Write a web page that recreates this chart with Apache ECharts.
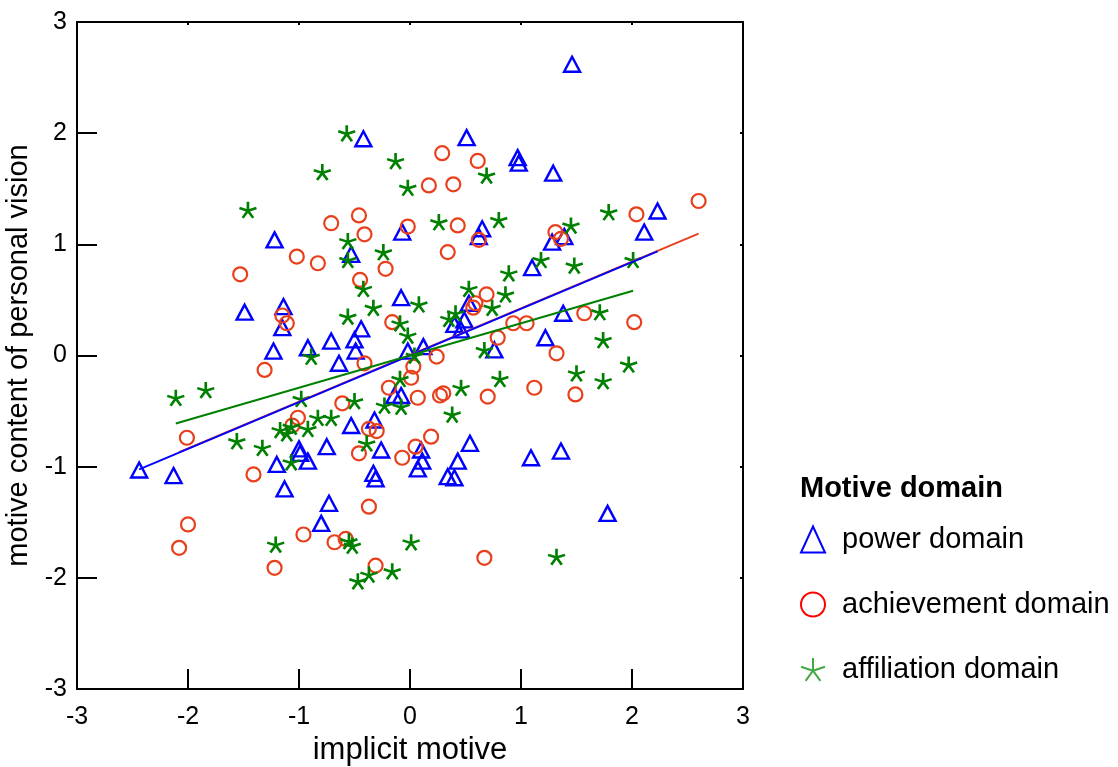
<!DOCTYPE html>
<html>
<head>
<meta charset="utf-8">
<script src="https://cdn.jsdelivr.net/npm/echarts@6/dist/echarts.min.js"></script>
<style>
  html, body { margin: 0; padding: 0; background: #fff; }
  #chart { width: 1118px; height: 767px; }
</style>
</head>
<body>
<div id="chart"></div>
<script>
// power domain (implicit motive, personal vision)
const powerData = [
  [1.46, 2.62], [0.51, 1.96], [-0.42, 1.95], [0.97, 1.78], [0.98, 1.73], [1.29, 1.64],
  [2.23, 1.30], [2.11, 1.11], [0.65, 1.14], [0.62, 1.07], [-0.07, 1.11], [1.39, 1.07],
  [1.28, 1.02], [-1.22, 1.04], [-0.53, 0.91], [1.10, 0.79], [-0.08, 0.52], [-1.49, 0.39],
  [-1.14, 0.44], [-1.15, 0.25], [-0.44, 0.24], [-0.50, 0.14], [-0.49, 0.04], [-0.71, 0.13],
  [-0.92, 0.07], [-1.23, 0.04], [-0.64, -0.07], [-0.02, 0.04], [0.12, 0.08], [0.53, 0.47],
  [0.49, 0.32], [0.40, 0.28], [0.46, 0.23], [0.76, 0.05], [1.38, 0.38], [1.22, 0.16],
  [-0.14, -0.36], [-0.08, -0.36], [0.10, -0.85], [0.11, -0.95], [0.07, -1.02], [0.54, -0.79],
  [0.43, -0.95], [0.34, -1.09], [0.40, -1.10], [1.09, -0.92], [1.36, -0.86], [1.78, -1.42],
  [-0.53, -0.63], [-0.32, -0.58], [-1.00, -0.84], [-0.99, -0.88], [-0.92, -0.95], [-1.20, -0.98],
  [-0.75, -0.82], [-0.26, -0.85], [-0.33, -1.06], [-0.31, -1.11], [-2.44, -1.03], [-2.13, -1.08],
  [-1.13, -1.20], [-0.73, -1.33], [-0.80, -1.51]
];
// achievement domain
const achievementData = [
  [0.29, 1.82], [0.61, 1.75], [0.17, 1.53], [0.39, 1.54], [2.04, 1.27], [2.60, 1.39],
  [0.43, 1.17], [0.62, 1.04], [-0.02, 1.16], [1.31, 1.11], [1.36, 1.05], [0.34, 0.93],
  [-0.71, 1.19], [-0.46, 1.26], [-0.41, 1.09], [-1.02, 0.89], [-0.83, 0.83], [-0.22, 0.78],
  [-1.53, 0.73], [-0.45, 0.68], [-1.15, 0.36], [-1.11, 0.29], [-0.16, 0.30], [-0.41, -0.07],
  [-1.31, -0.13], [0.03, -0.10], [0.01, -0.20], [0.24, -0.01], [0.69, 0.55], [0.59, 0.47],
  [0.57, 0.43], [0.79, 0.16], [0.93, 0.29], [1.05, 0.29], [1.57, 0.38], [2.02, 0.30],
  [1.32, 0.02], [-0.19, -0.29], [0.07, -0.38], [0.27, -0.36], [0.30, -0.34], [0.70, -0.37],
  [1.12, -0.29], [1.49, -0.35], [-0.61, -0.43], [-1.01, -0.56], [-1.06, -0.63], [-0.37, -0.66],
  [-0.30, -0.68], [-0.46, -0.88], [0.19, -0.73], [0.05, -0.82], [-0.07, -0.92], [-2.01, -0.74],
  [-1.41, -1.07], [-0.37, -1.36], [-2.00, -1.52], [-2.08, -1.73], [-1.22, -1.91], [-0.96, -1.61],
  [-0.68, -1.68], [-0.58, -1.65], [-0.31, -1.89], [0.67, -1.82]
];
// affiliation domain
const affiliationData = [
  [-0.57, 2.00], [-0.13, 1.75], [-0.79, 1.65], [0.69, 1.62], [-0.02, 1.51], [-1.46, 1.31],
  [1.79, 1.29], [0.26, 1.20], [0.80, 1.22], [1.45, 1.17], [-0.56, 1.03], [-0.24, 0.93],
  [-0.56, 0.86], [-0.42, 0.60], [-0.33, 0.43], [0.08, 0.46], [-0.56, 0.35], [-0.09, 0.29],
  [-0.89, -0.01], [-0.02, 0.18], [0.04, 0.00], [0.53, 0.60], [0.74, 0.43], [0.41, 0.38],
  [0.35, 0.33], [0.67, 0.05], [1.18, 0.86], [1.48, 0.81], [2.01, 0.86], [0.89, 0.74],
  [0.86, 0.55], [1.71, 0.39], [1.74, 0.14], [1.97, -0.08], [1.50, -0.16], [1.74, -0.23],
  [-0.09, -0.21], [-0.23, -0.45], [-0.08, -0.46], [0.46, -0.29], [0.38, -0.53], [0.81, -0.21],
  [-0.50, -0.41], [-0.98, -0.39], [-0.83, -0.56], [-0.71, -0.56], [-1.17, -0.67], [-1.11, -0.70],
  [-1.07, -0.64], [-0.92, -0.66], [-0.39, -0.79], [-1.33, -0.83], [-2.11, -0.38], [-1.84, -0.31],
  [-1.56, -0.77], [-1.07, -0.96], [-1.21, -1.70], [-0.55, -1.67], [-0.52, -1.71], [-0.47, -2.03],
  [-0.37, -1.97], [-0.16, -1.94], [0.01, -1.68], [1.32, -1.81]
];

const seriesNames = ['power domain', 'achievement domain', 'affiliation domain'];
const seriesColors = ['#0000ff', '#e8401c', '#008000'];
// linear fits: [slope, intercept]
const fitPower = [0.42, 0.0];
const fitAchievement = [0.42, 0.005];
const fitAffiliation = [0.29, 0.0];

const starPath = 'path://M0,0L0,-10M0,0L9.51,-3.09M0,0L5.88,8.09M0,0L-5.88,8.09M0,0L-9.51,-3.09';

function fitLine(data, fit) {
  const xs = data.map(d => d[0]);
  const x0 = Math.min(...xs), x1 = Math.max(...xs);
  return [[x0, fit[0] * x0 + fit[1]], [x1, fit[0] * x1 + fit[1]]];
}

const chart = echarts.init(document.getElementById('chart'));
const font = 'Liberation Sans, Arial, sans-serif';

const option = {
  animation: false,
  grid: { left: 77, top: 22, width: 666, height: 667, containLabel: false, outerBoundsMode: 'none' },
  xAxis: [{
    type: 'value', min: -3, max: 3, interval: 1,
    name: 'implicit motive', nameLocation: 'middle', nameGap: 43,
    nameTextStyle: { fontFamily: font, fontSize: 31, color: '#000' },
    axisLine: { onZero: false, lineStyle: { color: '#000', width: 2 } },
    axisTick: { inside: true, length: 20, lineStyle: { color: '#000', width: 2 } },
    axisLabel: { fontFamily: font, fontSize: 25, color: '#000', margin: 16 },
    splitLine: { show: false }
  }, {
    type: 'value', min: -3, max: 3, interval: 1, position: 'top',
    axisLine: { onZero: false, lineStyle: { color: '#000', width: 2 } },
    axisTick: { inside: true, length: 3, lineStyle: { color: '#000', width: 2 } },
    axisLabel: { show: false }, splitLine: { show: false }
  }],
  yAxis: [{
    type: 'value', min: -3, max: 3, interval: 1,
    name: 'motive content of personal vision', nameLocation: 'middle', nameGap: 41,
    nameTextStyle: { fontFamily: font, fontSize: 29, color: '#000' },
    axisLine: { onZero: false, lineStyle: { color: '#000', width: 2 } },
    axisTick: { inside: true, length: 20, lineStyle: { color: '#000', width: 2 } },
    axisLabel: { fontFamily: font, fontSize: 25, color: '#000', margin: 10 },
    splitLine: { show: false }
  }, {
    type: 'value', min: -3, max: 3, interval: 1, position: 'right',
    axisLine: { onZero: false, lineStyle: { color: '#000', width: 2 } },
    axisTick: { inside: true, length: 3, lineStyle: { color: '#000', width: 2 } },
    axisLabel: { show: false }, splitLine: { show: false }
  }],
  legend: {
    orient: 'vertical', left: 795, top: 520, itemGap: 36,
    itemWidth: 24, itemHeight: 26,
    textStyle: { fontFamily: font, fontSize: 29, color: '#000', padding: [0, 0, 0, 12] },
    data: [
      { name: seriesNames[0], icon: 'triangle',
        itemStyle: { color: 'rgba(0,0,0,0)', borderColor: '#0000ff', borderWidth: 2 } },
      { name: seriesNames[1], icon: 'circle',
        itemStyle: { color: 'rgba(0,0,0,0)', borderColor: '#ff0000', borderWidth: 2 } },
      { name: seriesNames[2], icon: starPath,
        itemStyle: { color: 'rgba(0,0,0,0)', borderColor: '#44a844', borderWidth: 2 } }
    ]
  },
  graphic: [{
    type: 'text', left: 800, top: 474,
    style: { text: 'Motive domain', font: 'bold 29px ' + font, fill: '#000' }
  }],
  series: [
    {
      name: seriesNames[0], type: 'scatter', data: powerData,
      symbol: 'triangle', symbolSize: [16, 15],
      itemStyle: { color: 'rgba(0,0,0,0)', borderColor: seriesColors[0], borderWidth: 2.4, opacity: 1 }
    },
    {
      name: seriesNames[1], type: 'scatter', data: achievementData,
      symbol: 'circle', symbolSize: 14,
      itemStyle: { color: 'rgba(0,0,0,0)', borderColor: seriesColors[1], borderWidth: 2.2, opacity: 1 }
    },
    {
      name: seriesNames[2], type: 'scatter', data: affiliationData,
      symbol: starPath, symbolSize: [17, 16],
      itemStyle: { color: 'rgba(0,0,0,0)', borderColor: seriesColors[2], borderWidth: 2.6, opacity: 1 }
    },
    {
      name: 'fit achievement', type: 'line', data: fitLine(achievementData, fitAchievement),
      symbol: 'none', lineStyle: { color: seriesColors[1], width: 2 }, z: 5
    },
    {
      name: 'fit power', type: 'line', data: fitLine(powerData, fitPower),
      symbol: 'none', lineStyle: { color: seriesColors[0], width: 2 }, z: 6
    },
    {
      name: 'fit affiliation', type: 'line', data: fitLine(affiliationData, fitAffiliation),
      symbol: 'none', lineStyle: { color: seriesColors[2], width: 2 }, z: 7
    }
  ]
};
chart.setOption(option);
</script>
</body>
</html>
